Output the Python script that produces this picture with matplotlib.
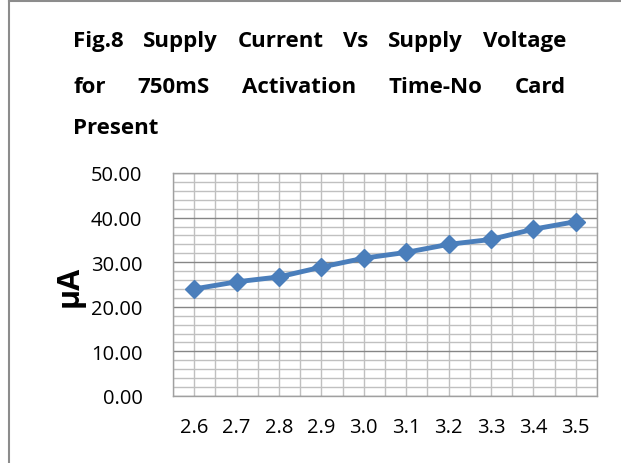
import matplotlib
matplotlib.use("Agg")
import matplotlib.pyplot as plt
from matplotlib.ticker import MultipleLocator, FixedLocator, FuncFormatter
from matplotlib.lines import Line2D

voltages = ["2.6", "2.7", "2.8", "2.9", "3.0", "3.1", "3.2", "3.3", "3.4", "3.5"]
current_uA = [24.0, 25.6, 26.7, 28.9, 30.9, 32.2, 34.0, 35.1, 37.4, 39.1]
title_lines = ["Fig.8 Supply Current Vs Supply Voltage",
               "for 750mS Activation Time-No Card",
               "Present"]

W, H = 621, 464
fig = plt.figure(figsize=(W / 100, H / 100), dpi=100)
plt.rcParams['font.family'] = ['Open Sans', 'DejaVu Sans']

ax = fig.add_axes([173 / W, 1 - 397 / H, (597 - 173) / W, (397 - 174) / H])
x = list(range(len(voltages)))
ax.plot(x, current_uA, color='#4a7ebb', lw=3.5, marker='D', ms=9,
        mfc='#4a7ebb', mec='#4a7ebb', zorder=5, clip_on=False)
ax.set_xlim(-0.5, len(voltages) - 0.5)
ax.set_ylim(0, 50)

ax.yaxis.set_major_locator(MultipleLocator(10))
ax.yaxis.set_minor_locator(MultipleLocator(2))
ax.yaxis.set_major_formatter(FuncFormatter(lambda v, p: f"{v:.2f}"))
ax.set_xticks(x)
ax.set_xticklabels(voltages)
ax.xaxis.set_minor_locator(FixedLocator([i - 0.5 for i in range(len(voltages) + 1)]))

ax.grid(True, which='major', axis='y', color='#868686', lw=1.0)
ax.grid(True, which='minor', axis='y', color='#c0c0c0', lw=1.0)
ax.grid(True, which='major', axis='x', color='#c0c0c0', lw=1.0)
ax.grid(True, which='minor', axis='x', color='#c0c0c0', lw=1.0)
ax.set_axisbelow(True)
ax.tick_params(which='both', length=0)
ax.tick_params(axis='y', labelsize=14.5, pad=22, colors='black')
ax.tick_params(axis='x', labelsize=14.5, pad=15, colors='black')
for s in ax.spines.values():
    s.set_color('#a0a0a0')
    s.set_linewidth(1.0)

fig.text(70 / W, 1 - 286 / H, "µA", rotation=90, fontsize=22, fontweight='bold',
         ha='center', va='center')

# justified title
renderer = fig.canvas.get_renderer()
left, right = 73, 566
baselines = [47, 93, 134]
fs = 16
for i, (line, yb) in enumerate(zip(title_lines, baselines)):
    words = line.split(" ")
    texts = [fig.text(0, 1 - yb / H, w, fontsize=fs, fontweight='bold',
                      ha='left', va='baseline') for w in words]
    widths = [t.get_window_extent(renderer).width for t in texts]
    if i < len(title_lines) - 1 and len(words) > 1:
        gap = (right - left - sum(widths)) / (len(words) - 1)
    else:
        gap = 0.3 * fs
    xpos = left
    for t, w in zip(texts, widths):
        t.set_x(xpos / W)
        xpos += w + gap

# outer border (left and top visible)
fig.add_artist(Line2D([8.5 / W, 8.5 / W], [0, 1 - 1.5 / H], transform=fig.transFigure,
                      color='#8c8c8c', lw=1.5))
fig.add_artist(Line2D([8.5 / W, 1], [1 - 1.5 / H, 1 - 1.5 / H], transform=fig.transFigure,
                      color='#8c8c8c', lw=1.5))

fig.savefig("out.png", dpi=100)
